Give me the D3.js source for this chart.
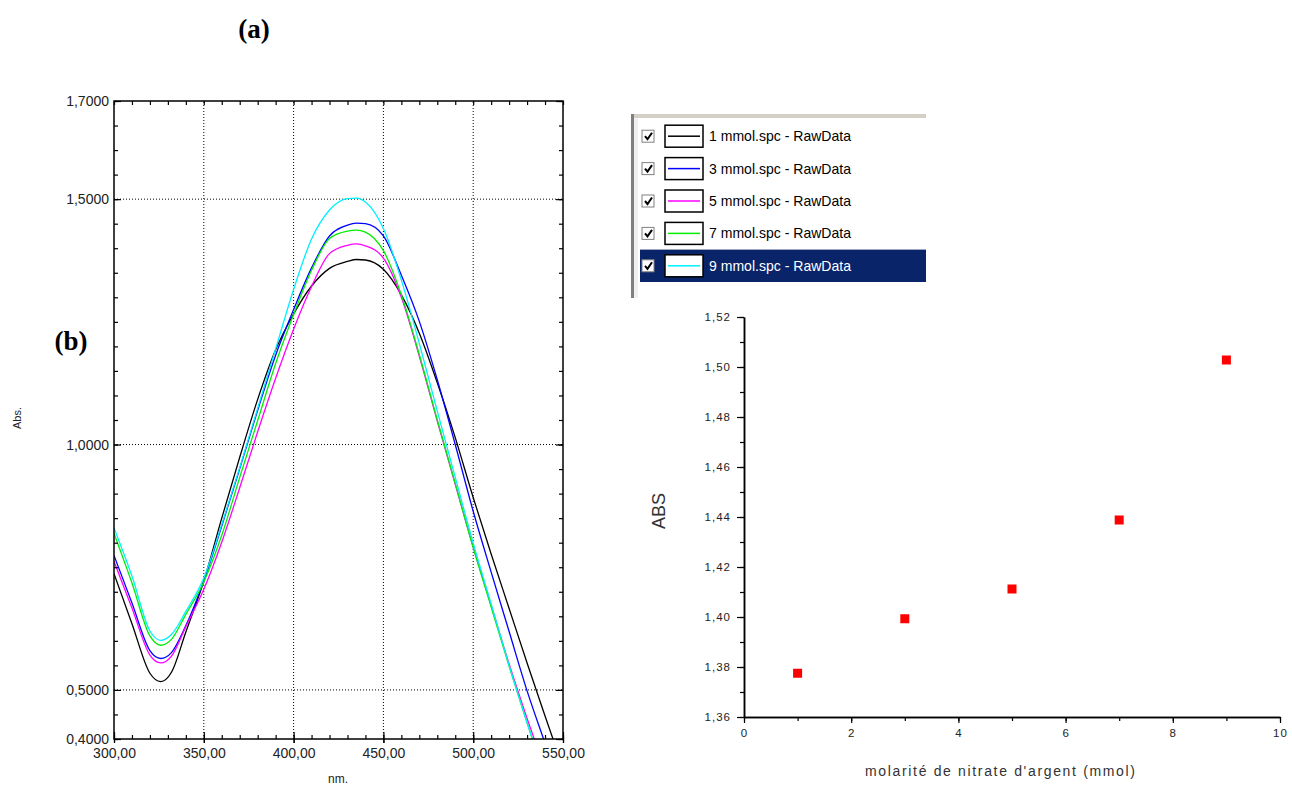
<!DOCTYPE html>
<meta charset="utf-8">
<head>
 <title>Spectres UV-Vis</title>
</head>

<style>
body { margin: 0; background: #fff; }
svg { display: block; }
text { font-family: "Liberation Sans", Arial, sans-serif; }
.grid line { stroke: #000; stroke-width: 1; stroke-dasharray: 1,2; }
.spec { fill: none; stroke-width: 1.3; }
</style>

<body>

 <div id="content">
   <svg width="1292" height="785"></svg>
 </div>

 <script src="https://cdnjs.cloudflare.com/ajax/libs/d3/7.8.5/d3.min.js"></script>

 <script>
// wavelengths (nm) shared by all the spectra
var wavelengths = [300, 310, 320, 326, 332, 340, 350, 360, 370, 380, 390, 400, 410, 420,
                   430, 435, 440, 450, 460, 470, 480, 490, 500, 510, 520, 530, 540, 550]

// absorbance
var abs1mmol = [0.737, 0.635, 0.534, 0.517, 0.536, 0.618, 0.722, 0.850, 0.974, 1.092, 1.193, 1.266, 1.323, 1.359,
                1.373, 1.377, 1.376, 1.357, 1.305, 1.227, 1.126, 1.014, 0.892, 0.777, 0.666, 0.555, 0.447, 0.341]
var abs3mmol = [0.774, 0.677, 0.580, 0.564, 0.576, 0.631, 0.722, 0.834, 0.951, 1.070, 1.182, 1.275, 1.360, 1.425,
                1.447, 1.451, 1.450, 1.425, 1.345, 1.251, 1.132, 1.000, 0.864, 0.740, 0.619, 0.498, 0.391, 0.280]
var abs5mmol = [0.762, 0.667, 0.571, 0.555, 0.569, 0.629, 0.705, 0.801, 0.912, 1.026, 1.135, 1.235, 1.322, 1.389,
                1.406, 1.409, 1.405, 1.380, 1.300, 1.180, 1.048, 0.919, 0.791, 0.672, 0.553, 0.442, 0.337, 0.230]
var abs7mmol = [0.819, 0.718, 0.610, 0.591, 0.603, 0.654, 0.720, 0.815, 0.933, 1.049, 1.165, 1.265, 1.355, 1.420,
                1.435, 1.437, 1.433, 1.395, 1.305, 1.183, 1.050, 0.921, 0.790, 0.669, 0.548, 0.433, 0.322, 0.210]
var abs9mmol = [0.830, 0.732, 0.620, 0.601, 0.613, 0.660, 0.728, 0.837, 0.953, 1.074, 1.195, 1.316, 1.419, 1.478,
                1.501, 1.502, 1.494, 1.440, 1.335, 1.206, 1.068, 0.933, 0.799, 0.675, 0.550, 0.433, 0.322, 0.210]

var seriesNames = ["1 mmol.spc - RawData", "3 mmol.spc - RawData", "5 mmol.spc - RawData",
                   "7 mmol.spc - RawData", "9 mmol.spc - RawData"]
var seriesColors = ["#000000", "#0000ff", "#ff00ff", "#00ee00", "#00f0ff"]

// tick values of the spectra chart
var specMajorY = [0.4, 0.5, 1.0, 1.5, 1.7]
var specGridY = [0.5, 1.0, 1.5]
var specMajorX = [300, 350, 400, 450, 500, 550]

// peak absorbance vs silver nitrate concentration
var molarity = [1, 3, 5, 7, 9]
var peakAbs = [1.3775, 1.3993, 1.4112, 1.4388, 1.5028]

var svg = d3.select('svg')

// ---- panel labels
svg.append('text').attr('x', 254).attr('y', 38).attr('text-anchor', 'middle')
  .style('font-family', '"Liberation Serif", "Times New Roman", serif')
  .style('font-weight', 'bold').style('font-size', '27px').text('(a)')
svg.append('text').attr('x', 71).attr('y', 350).attr('text-anchor', 'middle')
  .style('font-family', '"Liberation Serif", "Times New Roman", serif')
  .style('font-weight', 'bold').style('font-size', '27px').text('(b)')

// ---- spectra chart
var x = d3.scaleLinear().domain([300, 550]).range([114, 563])
var y = d3.scaleLinear().domain([0.4, 1.7]).range([739, 101])

var commaFmt = function(f) {
  return function(d) { return d3.format(f)(d).replace('.', ',') }
}

var left = svg.append('g')

var minorY = d3.range(0.4, 1.7001, 0.05).map(function(d) { return +d.toFixed(2) })
var minorX = d3.range(300, 551, 10)

// grid
var grid = left.append('g').attr('class', 'grid')
grid.selectAll('.gy').data(specGridY).enter().append('line')
  .attr('x1', x(300)).attr('x2', x(550))
  .attr('y1', function(d) { return y(d) }).attr('y2', function(d) { return y(d) })
grid.selectAll('.gx').data(specMajorX.slice(1, -1)).enter().append('line')
  .attr('y1', y(0.4)).attr('y2', y(1.7))
  .attr('x1', function(d) { return x(d) }).attr('x2', function(d) { return x(d) })

// spectra, clipped to the frame
left.append('clipPath').attr('id', 'specClip').append('rect')
  .attr('x', x(300)).attr('y', y(1.7)).attr('width', x(550) - x(300)).attr('height', y(0.4) - y(1.7))

var allSeries = [abs1mmol, abs3mmol, abs5mmol, abs7mmol, abs9mmol]
var line = d3.line()
  .x(function(d, i) { return x(wavelengths[i]) })
  .y(function(d) { return y(d) })
  .curve(d3.curveMonotoneX)

left.append('g').attr('clip-path', 'url(#specClip)')
  .selectAll('path').data(allSeries).enter().append('path')
  .attr('class', 'spec')
  .attr('stroke', function(d, i) { return seriesColors[i] })
  .attr('d', line)

// axes (ticks inward on every side)
function styleAxis(g) {
  g.select('.domain').remove()
  g.selectAll('.tick line').attr('stroke', '#000').attr('stroke-width', 1.2)
  g.selectAll('text').style('font-size', '14px').attr('fill', '#222')
}
left.append('g').attr('transform', 'translate(' + x(300) + ',0)')
  .call(d3.axisLeft(y).tickValues(minorY).tickSize(-4).tickFormat(''))
  .call(styleAxis)
left.append('g').attr('transform', 'translate(' + x(300) + ',0)')
  .call(d3.axisLeft(y).tickValues(specMajorY).tickSize(-7).tickPadding(5).tickFormat(commaFmt('.4f')))
  .call(styleAxis)
left.append('g').attr('transform', 'translate(' + x(550) + ',0)')
  .call(d3.axisRight(y).tickValues(minorY).tickSize(-4).tickFormat(''))
  .call(styleAxis)
left.append('g').attr('transform', 'translate(' + x(550) + ',0)')
  .call(d3.axisRight(y).tickValues(specMajorY).tickSize(-7).tickFormat(''))
  .call(styleAxis)
left.append('g').attr('transform', 'translate(0,' + y(0.4) + ')')
  .call(d3.axisBottom(x).tickValues(minorX).tickSize(-4).tickFormat(''))
  .call(styleAxis)
left.append('g').attr('transform', 'translate(0,' + y(0.4) + ')')
  .call(d3.axisBottom(x).tickValues(specMajorX).tickSize(-7).tickPadding(9).tickFormat(commaFmt('.2f')))
  .call(styleAxis)
left.selectAll('.tick').filter(function(d) { return specMajorX.indexOf(d) >= 0 })
  .append('line').attr('y2', 4).attr('stroke', '#000').attr('stroke-width', 1.2)
left.append('g').attr('transform', 'translate(0,' + y(1.7) + ')')
  .call(d3.axisTop(x).tickValues(minorX).tickSize(-4).tickFormat(''))
  .call(styleAxis)

// frame
left.append('rect')
  .attr('x', x(300)).attr('y', y(1.7)).attr('width', x(550) - x(300)).attr('height', y(0.4) - y(1.7))
  .attr('fill', 'none').attr('stroke', '#000').attr('stroke-width', 1.5)

left.append('text').attr('x', 338).attr('y', 783).attr('text-anchor', 'middle')
  .style('font-size', '12px').attr('fill', '#222').text('nm.')
left.append('text').attr('transform', 'translate(21,418) rotate(-90)').attr('text-anchor', 'middle')
  .style('font-size', '11px').attr('fill', '#222').text('Abs.')

// ---- legend panel (software list box)
var leg = svg.append('g')
leg.append('rect').attr('x', 631).attr('y', 114).attr('width', 3).attr('height', 184).attr('fill', '#808080')
leg.append('rect').attr('x', 634).attr('y', 114).attr('width', 292).attr('height', 4).attr('fill', '#d4d0c8')
leg.append('rect').attr('x', 634).attr('y', 118).attr('width', 4).attr('height', 180).attr('fill', '#f0f0f0')

var rowY = d3.scaleBand().domain(d3.range(seriesNames.length)).range([120, 282])

var rows = leg.selectAll('.row').data(seriesNames).enter().append('g')
  .attr('transform', function(d, i) { return 'translate(0,' + rowY(i) + ')' })

var bh = rowY.bandwidth()
rows.filter(function(d, i) { return i === seriesNames.length - 1 })
  .append('rect').attr('x', 640).attr('y', 0).attr('width', 286).attr('height', bh).attr('fill', '#0a246a')

rows.append('rect').attr('x', 642).attr('y', bh / 2 - 6).attr('width', 12).attr('height', 12)
  .attr('fill', '#fff').attr('stroke', '#808080').attr('stroke-width', 1)
rows.append('path')
  .attr('d', 'M645,' + (bh / 2) + ' l2.5,3 l4.5,-6.5')
  .attr('fill', 'none').attr('stroke', '#000').attr('stroke-width', 2)
rows.append('rect').attr('x', 665).attr('y', bh / 2 - 11).attr('width', 38).attr('height', 22)
  .attr('fill', '#fff').attr('stroke', '#000').attr('stroke-width', 1.5)
rows.append('line').attr('x1', 668).attr('x2', 700).attr('y1', bh / 2).attr('y2', bh / 2)
  .attr('stroke', function(d, i) { return seriesColors[i] }).attr('stroke-width', 1.5)
rows.append('text').attr('x', 709).attr('y', bh / 2 + 5)
  .attr('textLength', 142).attr('lengthAdjust', 'spacingAndGlyphs')
  .style('font-family', '"Liberation Sans Narrow", "Arial Narrow", "Liberation Sans", sans-serif')
  .style('font-size', '15px')
  .attr('fill', function(d, i) { return i === seriesNames.length - 1 ? '#fff' : '#000' })
  .text(function(d) { return d })

// ---- peak absorbance scatter
var x2 = d3.scaleLinear().domain([0, 10]).range([744, 1280])
var y2 = d3.scaleLinear().domain([1.36, 1.52]).range([717, 317])

var right = svg.append('g')

function styleAxis2(g) {
  g.select('.domain').attr('stroke', '#000').attr('stroke-width', 1.5)
  g.selectAll('.tick line').attr('stroke', '#000').attr('stroke-width', 1.2)
  g.selectAll('text').style('font-size', '11.5px').style('letter-spacing', '1px').attr('fill', '#222')
}
right.append('g').attr('transform', 'translate(' + x2(0) + ',0)')
  .call(d3.axisLeft(y2).tickValues(d3.range(1.36, 1.5201, 0.01)).tickSize(4).tickFormat('').tickSizeOuter(0))
  .call(styleAxis2)
right.append('g').attr('transform', 'translate(' + x2(0) + ',0)')
  .call(d3.axisLeft(y2).tickValues(d3.range(1.36, 1.5201, 0.02)).tickSize(7).tickSizeOuter(0).tickPadding(6)
    .tickFormat(commaFmt('.2f')))
  .call(styleAxis2)
right.append('g').attr('transform', 'translate(0,' + y2(1.36) + ')')
  .call(d3.axisBottom(x2).ticks(10).tickSize(4).tickFormat('').tickSizeOuter(0))
  .call(styleAxis2)
right.append('g').attr('transform', 'translate(0,' + y2(1.36) + ')')
  .call(d3.axisBottom(x2).tickValues([0, 2, 4, 6, 8, 10]).tickSize(6).tickSizeOuter(0).tickPadding(6))
  .call(styleAxis2)

right.selectAll('.pt').data(molarity).enter().append('rect')
  .attr('x', function(d) { return x2(d) - 4.5 })
  .attr('y', function(d, i) { return y2(peakAbs[i]) - 4.5 })
  .attr('width', 9).attr('height', 9)
  .attr('fill', '#ff0000')

right.append('text').attr('x', 1000).attr('y', 776).attr('text-anchor', 'middle')
  .attr('textLength', 270).attr('lengthAdjust', 'spacing')
  .style('font-size', '14px').attr('fill', '#333')
  .text("molarité de nitrate d'argent (mmol)")
right.append('text').attr('transform', 'translate(665,511) rotate(-90)').attr('text-anchor', 'middle')
  .style('font-size', '18px').attr('fill', '#333').text('ABS')
 </script>

</body>
</html>
